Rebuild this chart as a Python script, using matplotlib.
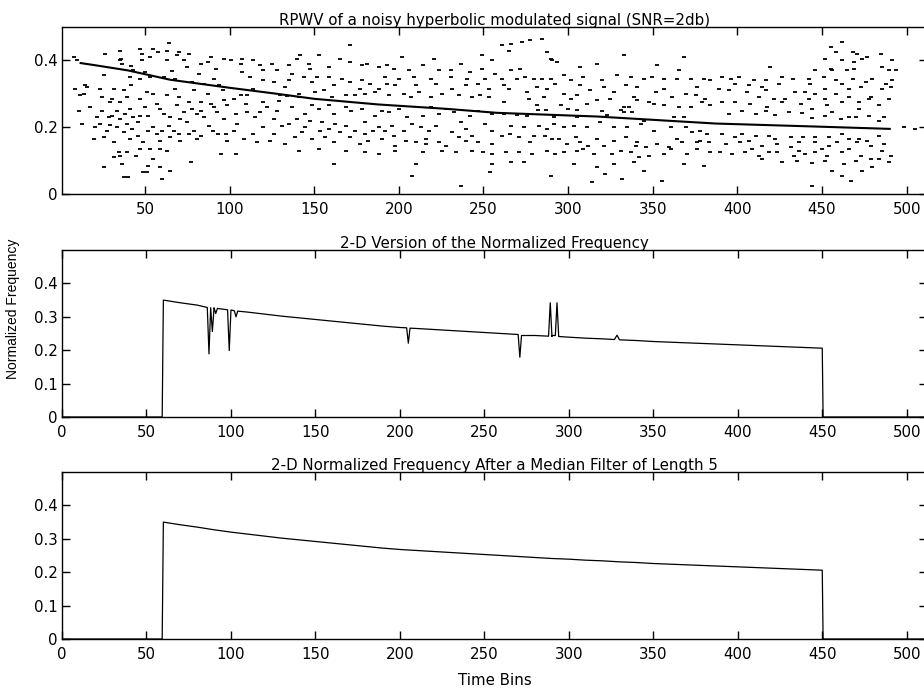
import numpy as np
import matplotlib
matplotlib.use("Agg")
import matplotlib.pyplot as plt

plt.rcParams['font.family'] = ['DejaVu Sans']
plt.rcParams['font.size'] = 10.8

# instantaneous-frequency ridge (bins 60..450)
curve_x = [60, 70, 80, 90, 100, 110, 120, 130, 140, 150, 160, 170, 180, 190,
           200, 210, 220, 230, 240, 250, 260, 270, 280, 290, 300, 310, 320,
           330, 340, 350, 360, 370, 380, 390, 400, 410, 420, 430, 440, 450]
curve_y = [0.350, 0.342, 0.335, 0.327, 0.320, 0.314, 0.308, 0.302, 0.297,
           0.292, 0.287, 0.282, 0.277, 0.272, 0.268, 0.265, 0.262, 0.259,
           0.256, 0.253, 0.250, 0.247, 0.244, 0.241, 0.239, 0.236, 0.234,
           0.231, 0.229, 0.226, 0.224, 0.222, 0.220, 0.218, 0.216, 0.214,
           0.212, 0.210, 0.208, 0.206]

# outliers in the unfiltered 2-D estimate (with flanking samples)
glitch_x = [86, 87, 88, 89, 90, 91, 92, 98, 99, 100.5, 102, 103, 104,
            204, 205, 206, 270, 271, 272, 288, 289, 290, 292, 293, 294,
            327, 328.5, 330]
glitch_y = [0.328, 0.189, 0.327, 0.256, 0.326, 0.310, 0.325, 0.321, 0.199,
            0.320, 0.318, 0.300, 0.317, 0.267, 0.221, 0.266, 0.247, 0.179,
            0.244, 0.242, 0.342, 0.244, 0.244, 0.342, 0.241, 0.232, 0.245,
            0.231]

# main ridge of the RPWV
ridge_x = [12, 20, 40, 65, 100, 128, 150, 188, 228, 258, 317, 357, 387, 446, 490]
ridge_y = [0.392, 0.386, 0.370, 0.342, 0.318, 0.300, 0.285, 0.268, 0.255,
           0.243, 0.232, 0.220, 0.211, 0.202, 0.195]

# scattered cross-term / noise dashes of the RPWV (bin, frequency)
noise_pts = [
    (64, .453), (35.5, .428), (26.6, .42), (47, .435), (63, .428), (70, .425),
    (76, .42), (53, .41), (36, .405), (48, .40), (63, .40), (36.5, .39),
    (83, .39), (87, .395), (100.6, .40), (107.5, .405), (118, .385), (128, .37),
    (42, .382), (66, .368), (75, .38), (92, .375), (82, .36), (91, .345),
    (107.5, .365), (25.6, .355), (47, .345), (41, .35), (61, .35), (112, .35),
    (120, .34), (126, .335), (31.6, .315), (23.7, .315), (15.8, .32), (8.9, .315),
    (37.5, .31), (42, .325), (51, .305), (68, .315), (79, .31), (96, .31),
    (106.5, .295), (114, .315), (13.8, .30), (24.7, .29), (30.6, .285),
    (39.4, .29), (47, .285), (55, .30), (63, .295), (70, .29), (87, .30),
    (96.6, .28), (102.6, .285), (110, .295), (29.6, .275), (35.5, .275),
    (57, .27), (69, .265), (76, .275), (83, .25), (91, .26), (109.5, .27),
    (120, .275), (24.7, .25), (33.5, .25), (41, .255), (50, .26), (59, .255),
    (78, .255), (103.5, .24), (122, .26), (21.7, .23), (28.6, .23), (35.5, .225),
    (43, .23), (52, .235), (65, .23), (71, .225), (85, .23), (96.6, .225),
    (115, .23), (126, .225), (23.7, .21), (29.6, .208), (39.4, .21), (46, .215),
    (55, .20), (64, .205), (75, .215), (88, .205), (104.5, .21), (120, .20),
    (27.6, .19), (37.5, .185), (46, .175), (57, .18), (67, .19), (76, .18),
    (83, .175), (93, .18), (102.6, .19), (108.5, .165), (116, .155), (124, .16),
    (19.7, .165), (31.6, .155), (34.5, .125), (35.5, .115), (45, .115),
    (53, .135), (63, .13), (77, .095), (36.5, .09), (25.6, .08), (52, .085),
    (37.5, .05), (51, .065), (60, .045), (65, .07), (94.7, .12), (103.5, .12),
    (40, .052), (8, .41), (10, .40), (11, .25), (13, .21),
    (48, .42), (55, .435), (58, .425), (35.5, .40), (43, .37), (50, .365),
    (53, .35), (68, .345), (78, .335), (85, .33), (94, .325), (83, .275),
    (89, .27), (98.6, .265), (30.6, .235), (38.5, .24), (47, .235), (61, .24),
    (73, .245), (81, .24), (92.7, .245), (110.5, .245), (118, .245), (128, .25),
    (20.7, .20), (33.5, .20), (42.4, .195), (52, .19), (60, .19), (70, .18),
    (79, .19), (90, .19), (97.6, .18), (114, .18), (126, .18), (25.6, .17),
    (41.4, .165), (49, .155), (59, .16), (65, .17), (71, .16), (81, .165),
    (98.6, .16), (39.4, .125), (47, .135), (59, .135), (31.6, .11), (55, .105),
    (59, .08), (49, .065), (17.7, .26), (14.8, .325), (11.8, .295),
    (106.5, .39), (114, .40), (120, .37), (125, .39), (89, .41), (96.6, .405),
    (73, .40), (69, .415),
    (171, .445), (152.7, .415), (141.8, .415), (202, .41), (135, .385),
    (147.7, .375), (158.6, .38), (171, .395), (178, .385), (188, .38),
    (193, .385), (197, .375), (206, .37), (214, .385), (223.7, .37),
    (230.6, .37), (242, .365), (249, .375), (137, .36), (143.8, .35),
    (151.7, .35), (158.6, .35), (166.5, .345), (178, .34), (192, .35),
    (200, .345), (209, .35), (218.7, .345), (230.6, .35), (240.4, .345),
    (251, .345), (257, .36), (133, .32), (161.5, .325), (177, .315), (188, .315),
    (193, .33), (210, .325), (212, .305), (231.6, .315), (239.5, .325),
    (253, .315), (155.6, .31), (174, .295), (186, .305), (203, .30),
    (218.7, .29), (243, .29), (248, .295), (130, .295), (134, .293), (141, .29),
    (129, .278), (137, .26), (144.8, .24), (152.7, .255), (161.5, .24),
    (172, .25), (186, .235), (194, .245), (205, .23), (214, .235), (223.7, .24),
    (232.5, .245), (242, .235), (255, .24), (135, .21), (140, .225),
    (147.7, .22), (154.6, .215), (162.5, .21), (168.5, .205), (180, .215),
    (188, .20), (196, .205), (208, .21), (213, .20), (221.7, .205),
    (236.5, .215), (251, .21), (131, .205), (142.8, .185), (153.6, .19),
    (165.5, .185), (171.4, .17), (180, .18), (197, .175), (204, .16),
    (210, .155), (223.7, .155), (227.6, .145), (235.5, .17), (243.4, .175),
    (247, .155), (255, .15), (161.5, .155), (177, .15), (198, .145), (216, .15),
    (133, .15), (152.7, .135), (198, .13), (225.6, .13), (250, .125),
    (255, .12), (161.5, .09), (210, .09), (255, .09), (208, .055),
    (236.5, .025), (254, .065),
    (139.8, .405), (146.7, .39), (165.5, .405), (181, .39), (220.7, .405),
    (236.5, .39), (255, .40), (249, .415), (135, .34), (148.7, .335),
    (171.4, .335), (183, .33), (198, .325), (221.7, .33), (247, .33),
    (140.8, .30), (150.7, .305), (160.6, .29), (168.5, .295), (180, .30),
    (194, .295), (207, .29), (225.6, .30), (235.5, .295), (253, .29),
    (148.7, .265), (158.6, .265), (168.5, .26), (178, .255), (190, .25),
    (200, .255), (218.7, .26), (227.6, .255), (247, .25), (144.8, .20),
    (158.6, .195), (174, .19), (185, .19), (192, .19), (203, .19), (218, .19),
    (231.6, .185), (239.5, .195), (255, .19), (138.9, .17), (148.7, .165),
    (156.6, .17), (182, .16), (190, .165), (215.8, .165), (239.5, .16),
    (140.8, .13), (168.5, .13), (180, .125), (188, .12), (214, .125),
    (233.5, .125), (243.4, .13),
    (266, .448), (272.8, .455), (284.6, .465), (265, .428), (287.6, .425),
    (290.5, .40), (317, .39), (333, .415), (266, .37), (271.8, .375),
    (261, .345), (270, .345), (274.8, .35), (279.7, .345), (284.6, .345),
    (289.6, .345), (297.4, .355), (301.4, .34), (309, .35), (320, .34),
    (329, .355), (337, .35), (344.8, .345), (349.7, .35), (356.6, .345),
    (364.5, .345), (372.4, .345), (380, .345), (384, .34), (265, .315),
    (275.8, .305), (287.6, .315), (297.4, .30), (305, .295), (313, .31),
    (327, .305), (338.9, .29), (351.7, .305), (361.5, .29), (369.4, .30),
    (375.4, .295), (381, .285), (262, .275), (281.7, .265), (295.5, .265),
    (311, .27), (333, .26), (347.7, .275), (356.6, .265), (365.5, .26),
    (379.3, .275), (282, .252), (287, .252), (300, .253), (305, .252),
    (320, .25), (262, .24), (269.8, .238), (333, .245), (344.8, .22),
    (362.5, .23), (368.5, .23), (266, .205), (282.6, .205), (291.5, .21),
    (303.4, .205), (319, .215), (335, .20), (350.7, .19), (360.6, .20),
    (373.4, .185), (382, .18), (261, .175), (270.8, .17), (277.7, .155),
    (286.6, .175), (294.5, .165), (299.4, .15), (304.4, .17), (312, .145),
    (321, .145), (327, .16), (339.9, .145), (345.8, .14), (352.7, .15),
    (359.6, .14), (367.5, .155), (376, .155), (383, .155), (263, .125),
    (270.8, .125), (278.7, .12), (292.5, .12), (305, .13), (315, .12),
    (326, .12), (337, .125), (341.8, .11), (347.7, .115), (370, .12),
    (266, .095), (327, .09), (338.9, .095), (380, .085), (289.6, .055),
    (322, .06), (314, .035), (355.6, .04), (332, .045),
    (277.7, .46), (261, .445), (289.6, .405), (293.5, .395), (307, .38),
    (352.7, .385), (368.5, .41), (365.5, .37), (262, .325), (281.7, .32),
    (292.5, .33), (307, .325), (321, .32), (334, .325), (340.8, .32),
    (356.6, .315), (376, .32), (276.7, .285), (285.6, .29), (301.4, .285),
    (317, .28), (325, .285), (340.8, .28), (350.7, .27), (372.4, .26),
    (384, .265), (275.8, .235), (291.5, .232), (305, .232), (323, .238),
    (331, .252), (336, .26), (338, .245), (273.8, .20), (287.6, .195),
    (297.4, .20), (311, .20), (327, .20), (342.8, .21), (369.4, .20),
    (378, .19), (265.9, .18), (279.7, .175), (290.5, .165), (307, .155),
    (317, .165), (334, .17), (340.8, .155), (364.5, .165), (378, .16),
    (287.6, .13), (297.4, .125), (309, .135), (331, .13), (356.6, .12),
    (360.6, .135), (376, .135), (384, .125), (273.8, .095), (303.4, .09),
    (317, .08), (344.8, .07), (368.5, .09),
    (462, .455), (468, .425), (455, .44), (484.6, .42), (452, .405), (462, .40),
    (469, .395), (476.7, .41), (419.5, .38), (455, .375), (469, .375),
    (489.6, .37), (391, .35), (396, .345), (400.8, .35), (409.7, .34),
    (416.6, .34), (426.4, .35), (433, .345), (442, .345), (451, .35),
    (458, .34), (468, .345), (479.7, .345), (491.5, .34), (389, .315),
    (395, .31), (405.7, .305), (416.6, .31), (421.5, .285), (428.4, .285),
    (434.3, .305), (440, .305), (446, .30), (452, .315), (458, .30),
    (466, .315), (472.8, .32), (478.7, .29), (485.6, .315), (490.5, .32),
    (391, .275), (398.8, .275), (407.7, .27), (417.6, .26), (426.4, .275),
    (437.3, .27), (444, .255), (453, .265), (462, .275), (471.8, .255),
    (477.7, .285), (483.6, .265), (395, .24), (410.7, .24), (422.5, .238),
    (438, .242), (444, .228), (452, .235), (461, .225), (466, .232),
    (483.6, .22), (391, .18), (402.8, .18), (410.7, .175), (418.6, .175),
    (431.4, .17), (439, .17), (454, .17), (462, .18), (471.8, .165),
    (483.6, .175), (393, .15), (401.8, .155), (414.6, .145), (423.5, .15),
    (431.4, .14), (446, .155), (454, .145), (470.8, .155), (478.7, .145),
    (390, .125), (396.9, .12), (404.7, .125), (412.6, .115), (423.5, .125),
    (433.4, .115), (440, .12), (446, .125), (453, .115), (462, .125),
    (472.8, .115), (478.7, .105), (483.6, .105), (426.4, .095), (444, .092),
    (463, .09), (473.8, .07), (489.6, .095), (462, .055), (467, .04),
    (456, .07), (444, .025), (498.4, .20), (505, .195),
    (458, .425), (470.8, .42), (473.8, .405), (465, .37), (456, .37),
    (485.6, .38), (446, .37), (398.8, .33), (406.7, .325), (414.6, .32),
    (424.5, .33), (443, .33), (462, .33), (475.8, .335), (487.6, .33),
    (412.6, .29), (442, .285), (452, .285), (466, .29), (471.8, .275),
    (489.6, .285), (402.8, .25), (416.6, .25), (430.4, .245), (456, .245),
    (469.8, .23), (477.7, .235), (486.6, .23), (398.8, .17), (406.7, .16),
    (422.5, .165), (436.3, .155), (446, .17), (459, .155), (466, .165),
    (476.7, .16), (486.6, .15), (408.7, .135), (418.6, .125), (436.3, .13),
    (450, .135), (466, .135), (485.6, .13), (414.6, .105), (435.3, .10),
    (452, .10), (469.8, .10), (479.7, .08), (490.5, .115), (491.5, .40),
    (493.5, .37),
]

titles = ["RPWV of a noisy hyperbolic modulated signal (SNR=2db)",
          "2-D Version of the Normalized Frequency",
          "2-D Normalized Frequency After a Median Filter of Length 5"]

W, H = 924, 690
fig = plt.figure(figsize=(W / 100, H / 100), dpi=100)
left, width = 62 / W, 865 / W
tops = [27, 250, 472]
axes = [fig.add_axes([left, 1 - (t + 167) / H, width, 167 / H]) for t in tops]


def style(ax):
    for s in ax.spines.values():
        s.set_linewidth(1.0)
    ax.tick_params(direction='in', length=5.5, width=1.0, top=True,
                   right=True, labelsize=10.8)
    ax.tick_params(axis='x', pad=5.5)
    ax.tick_params(axis='y', pad=3)


def fmt(v):
    return "0" if v == 0 else f"{v:g}"


# top: RPWV
ax = axes[0]
nx = [p[0] for p in noise_pts]
ny = [p[1] for p in noise_pts]
ax.plot(nx, ny, linestyle='none', marker='_', markersize=3.4,
        markeredgewidth=1.3, color='black')
ax.plot(ridge_x, ridge_y, color='black', linewidth=1.5)
ax.set_xlim(1, 512)
ax.set_ylim(0, 0.5)
ax.set_xticks(range(50, 501, 50))
ax.set_yticks([0, 0.2, 0.4])
ax.set_yticklabels([fmt(v) for v in [0, 0.2, 0.4]])
ax.set_title(titles[0], pad=1.5, fontsize=10.8)
style(ax)

# middle: raw 2-D estimate
pts = sorted(list(zip(curve_x, curve_y)) + list(zip(glitch_x, glitch_y)))
mid_x = [0, 59.3] + [p[0] for p in pts] + [450.5, 512]
mid_y = [0, 0] + [p[1] for p in pts] + [0, 0]
ax = axes[1]
ax.plot(mid_x, mid_y, color='black', linewidth=0.9)
ax.set_ylabel("Normalized Frequency", fontsize=10,
              family=['Liberation Sans', 'DejaVu Sans'])
ax.yaxis.set_label_coords(-0.049, 0.65)

# bottom: median filtered
bot_x = [0, 59.3] + curve_x + [450.5, 512]
bot_y = [0, 0] + curve_y + [0, 0]
axes[2].plot(bot_x, bot_y, color='black', linewidth=0.9)
axes[2].set_xlabel("Time Bins")
axes[2].xaxis.set_label_coords(0.5, -0.205)

for i in (1, 2):
    ax = axes[i]
    ax.set_xlim(0, 512)
    ax.set_ylim(0, 0.5)
    ax.set_xticks(range(0, 501, 50))
    yt = [0, 0.1, 0.2, 0.3, 0.4]
    ax.set_yticks(yt)
    ax.set_yticklabels([fmt(v) for v in yt])
    ax.set_title(titles[i], pad=1.5, fontsize=10.8)
    style(ax)

fig.savefig("out.png", dpi=100)
